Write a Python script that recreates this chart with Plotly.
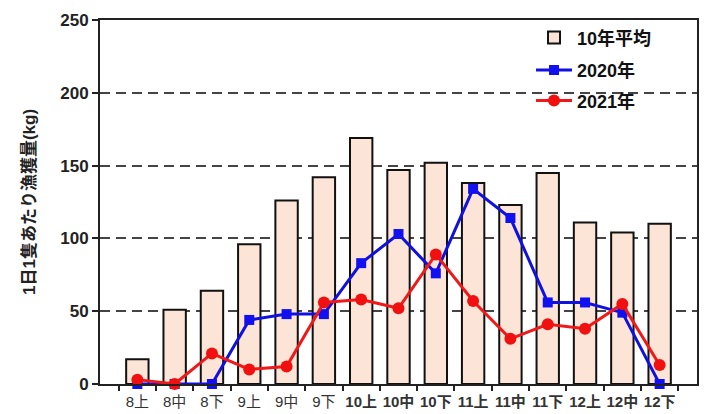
import plotly.graph_objects as go

categories = ["8上", "8中", "8下", "9上", "9中", "9下", "10上", "10中", "10下",
              "11上", "11中", "11下", "12上", "12中", "12下"]
tick_labels = ["8上", "8中", "8下", "9上", "9中", "9下", "<b>10上</b>", "<b>10中</b>", "<b>10下</b>",
               "<b>11上</b>", "<b>11中</b>", "<b>11下</b>", "<b>12上</b>", "<b>12中</b>", "<b>12下</b>"]
avg10 = [17, 51, 64, 96, 126, 142, 169, 147, 152, 138, 123, 145, 111, 104, 110]
y2020 = [0, 0, 0, 44, 48, 48, 83, 103, 76, 134, 114, 56, 56, 49, 0]
y2021 = [3, 0, 21, 10, 12, 56, 58, 52, 89, 57, 31, 41, 38, 55, 13]

FONT = "Liberation Sans, Arial, Noto Sans CJK JP, sans-serif"

fig = go.Figure()
fig.add_trace(go.Bar(
    x=categories, y=avg10, name="<b>10年平均</b>", width=0.6,
    marker=dict(color="#FCE5D6", line=dict(color="#111111", width=2)),
    legend="legend"))
fig.add_trace(go.Scatter(
    x=categories, y=y2020, name="<b>2020年</b>", mode="lines+markers",
    line=dict(color="#1010E0", width=3),
    marker=dict(symbol="square", size=10, color="#1010F0"),
    legend="legend2", cliponaxis=False))
fig.add_trace(go.Scatter(
    x=categories, y=y2021, name="<b>2021年</b>", mode="lines+markers",
    line=dict(color="#F01818", width=3),
    marker=dict(symbol="circle", size=12, color="#F01010"),
    legend="legend3", cliponaxis=False))

leg_common = dict(bgcolor="rgba(0,0,0,0)", font=dict(family=FONT, size=18, color="#111111"),
                  xanchor="left", yanchor="middle", itemwidth=36)
fig.update_layout(
    width=701, height=406,
    margin=dict(l=92, r=12, t=12, b=30, autoexpand=False),
    plot_bgcolor="white", paper_bgcolor="white",
    font=dict(family=FONT, color="#222222"),
    showlegend=True,
    legend=dict(x=0.722, y=0.951, **leg_common),
    legend2=dict(x=0.722, y=0.862, **leg_common),
    legend3=dict(x=0.722, y=0.778, **leg_common),
    xaxis=dict(
        type="category", tickmode="array", tickvals=categories, ticktext=tick_labels,
        ticks="outside", tickson="boundaries", ticklen=5, tickwidth=1.5, tickcolor="#222",
        showline=True, linecolor="#222", linewidth=2, mirror=True, tickangle=0,
        tickfont=dict(size=15, color="#333"), showgrid=False, automargin=False,
        ticklabelstandoff=3,
    ),
    yaxis=dict(
        range=[0, 250], dtick=50, ticks="outside", ticklen=6, tickwidth=1.5, tickcolor="#222",
        showline=True, linecolor="#222", linewidth=2, mirror=True,
        showgrid=True, gridcolor="#444444", gridwidth=1.5, griddash="10px,6px",
        tickfont=dict(size=17, color="#222"),
        tickprefix="<b>", ticksuffix="</b>", automargin=False,
        title=dict(text="<b>1日1隻あたり漁獲量(kg)</b>", font=dict(size=17, color="#222"), standoff=20),
        zeroline=False,
    ),
    bargap=0.4,
)
fig.write_html("out.html")
